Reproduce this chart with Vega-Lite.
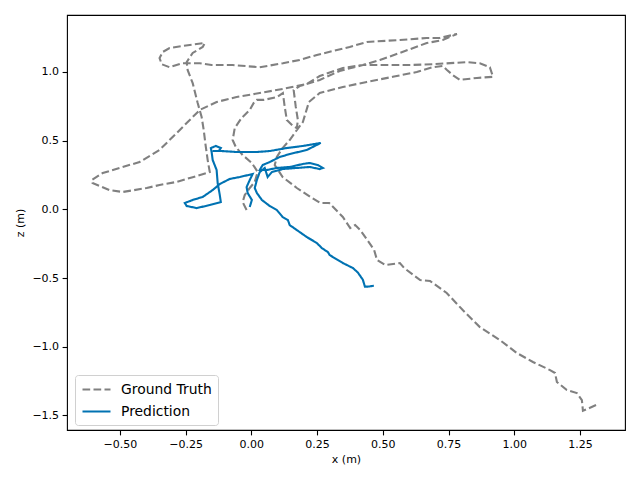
{
"$schema":"https://vega.github.io/schema/vega-lite/v6.json",
"width":558,"height":415,
"autosize":{"type":"none"},
"padding":{"left":67,"top":15,"right":15,"bottom":50},
"background":"white",
"config":{"font":"DejaVu Sans","view":{"stroke":"black","strokeWidth":1.1},
"axis":{"domain":false,"grid":false,"tickColor":"black","tickWidth":1.1,"tickSize":4.9,"labelFontSize":11,"labelColor":"black","labelPadding":3.5,"titleFontSize":11,"titleFontWeight":"normal","titleColor":"black"},
"legend":{"orient":"none","legendX":8,"legendY":360,"fillColor":"rgba(255,255,255,0.8)","strokeColor":"#d0d0d0","cornerRadius":3,"padding":6,"labelFontSize":13.9,"labelColor":"black","symbolType":"M-1,0H3","symbolSize":196,"symbolStrokeWidth":2.1,"rowPadding":6,"labelOffset":23}},
"data":{"values":[
{"s":"Ground Truth","i":1,"x":-0.018,"y":-0.005},
{"s":"Ground Truth","i":2,"x":-0.033,"y":0.053},
{"s":"Ground Truth","i":3,"x":-0.025,"y":0.104},
{"s":"Ground Truth","i":4,"x":-0.006,"y":0.155},
{"s":"Ground Truth","i":5,"x":0.013,"y":0.199},
{"s":"Ground Truth","i":6,"x":0.024,"y":0.272},
{"s":"Ground Truth","i":7,"x":0.002,"y":0.337},
{"s":"Ground Truth","i":8,"x":-0.033,"y":0.395},
{"s":"Ground Truth","i":9,"x":-0.059,"y":0.453},
{"s":"Ground Truth","i":10,"x":-0.071,"y":0.504},
{"s":"Ground Truth","i":11,"x":-0.063,"y":0.592},
{"s":"Ground Truth","i":12,"x":-0.037,"y":0.665},
{"s":"Ground Truth","i":13,"x":-0.006,"y":0.723},
{"s":"Ground Truth","i":14,"x":0.009,"y":0.774},
{"s":"Ground Truth","i":15,"x":0.021,"y":0.796},
{"s":"Ground Truth","i":16,"x":0.047,"y":0.796},
{"s":"Ground Truth","i":17,"x":0.097,"y":0.817},
{"s":"Ground Truth","i":18,"x":0.120,"y":0.846},
{"s":"Ground Truth","i":19,"x":0.127,"y":0.745},
{"s":"Ground Truth","i":20,"x":0.135,"y":0.650},
{"s":"Ground Truth","i":21,"x":0.158,"y":0.606},
{"s":"Ground Truth","i":22,"x":0.173,"y":0.591},
{"s":"Ground Truth","i":23,"x":0.177,"y":0.650},
{"s":"Ground Truth","i":24,"x":0.169,"y":0.745},
{"s":"Ground Truth","i":25,"x":0.161,"y":0.868},
{"s":"Ground Truth","i":26,"x":0.184,"y":0.897},
{"s":"Ground Truth","i":27,"x":0.260,"y":0.941},
{"s":"Ground Truth","i":28,"x":0.336,"y":1.007},
{"s":"Ground Truth","i":29,"x":0.424,"y":1.050},
{"s":"Ground Truth","i":30,"x":0.489,"y":1.087},
{"s":"Ground Truth","i":31,"x":0.565,"y":1.138},
{"s":"Ground Truth","i":32,"x":0.667,"y":1.210},
{"s":"Ground Truth","i":33,"x":0.728,"y":1.232},
{"s":"Ground Truth","i":34,"x":0.782,"y":1.276},
{"s":"Ground Truth","i":35,"x":0.717,"y":1.247},
{"s":"Ground Truth","i":36,"x":0.667,"y":1.247},
{"s":"Ground Truth","i":37,"x":0.565,"y":1.232},
{"s":"Ground Truth","i":38,"x":0.439,"y":1.218},
{"s":"Ground Truth","i":39,"x":0.374,"y":1.181},
{"s":"Ground Truth","i":40,"x":0.310,"y":1.152},
{"s":"Ground Truth","i":41,"x":0.249,"y":1.123},
{"s":"Ground Truth","i":42,"x":0.184,"y":1.087},
{"s":"Ground Truth","i":43,"x":0.120,"y":1.063},
{"s":"Ground Truth","i":44,"x":0.032,"y":1.034},
{"s":"Ground Truth","i":45,"x":-0.071,"y":1.050},
{"s":"Ground Truth","i":46,"x":-0.151,"y":1.050},
{"s":"Ground Truth","i":47,"x":-0.196,"y":1.063},
{"s":"Ground Truth","i":48,"x":-0.261,"y":1.063},
{"s":"Ground Truth","i":49,"x":-0.311,"y":1.034},
{"s":"Ground Truth","i":50,"x":-0.341,"y":1.056},
{"s":"Ground Truth","i":51,"x":-0.349,"y":1.101},
{"s":"Ground Truth","i":52,"x":-0.337,"y":1.145},
{"s":"Ground Truth","i":53,"x":-0.311,"y":1.174},
{"s":"Ground Truth","i":54,"x":-0.234,"y":1.196},
{"s":"Ground Truth","i":55,"x":-0.177,"y":1.210},
{"s":"Ground Truth","i":56,"x":-0.185,"y":1.181},
{"s":"Ground Truth","i":57,"x":-0.223,"y":1.138},
{"s":"Ground Truth","i":58,"x":-0.246,"y":1.071},
{"s":"Ground Truth","i":59,"x":-0.242,"y":1.012},
{"s":"Ground Truth","i":60,"x":-0.223,"y":0.918},
{"s":"Ground Truth","i":61,"x":-0.204,"y":0.773},
{"s":"Ground Truth","i":62,"x":-0.189,"y":0.672},
{"s":"Ground Truth","i":63,"x":-0.181,"y":0.576},
{"s":"Ground Truth","i":64,"x":-0.174,"y":0.467},
{"s":"Ground Truth","i":65,"x":-0.166,"y":0.358},
{"s":"Ground Truth","i":66,"x":-0.158,"y":0.271},
{"s":"Ground Truth","i":67,"x":-0.170,"y":0.264},
{"s":"Ground Truth","i":68,"x":-0.223,"y":0.234},
{"s":"Ground Truth","i":69,"x":-0.284,"y":0.199},
{"s":"Ground Truth","i":70,"x":-0.349,"y":0.177},
{"s":"Ground Truth","i":71,"x":-0.398,"y":0.155},
{"s":"Ground Truth","i":72,"x":-0.489,"y":0.126},
{"s":"Ground Truth","i":73,"x":-0.539,"y":0.140},
{"s":"Ground Truth","i":74,"x":-0.604,"y":0.191},
{"s":"Ground Truth","i":75,"x":-0.607,"y":0.213},
{"s":"Ground Truth","i":76,"x":-0.565,"y":0.264},
{"s":"Ground Truth","i":77,"x":-0.501,"y":0.301},
{"s":"Ground Truth","i":78,"x":-0.425,"y":0.344},
{"s":"Ground Truth","i":79,"x":-0.349,"y":0.432},
{"s":"Ground Truth","i":80,"x":-0.284,"y":0.555},
{"s":"Ground Truth","i":81,"x":-0.196,"y":0.723},
{"s":"Ground Truth","i":82,"x":-0.132,"y":0.781},
{"s":"Ground Truth","i":83,"x":-0.056,"y":0.817},
{"s":"Ground Truth","i":84,"x":0.032,"y":0.846},
{"s":"Ground Truth","i":85,"x":0.120,"y":0.876},
{"s":"Ground Truth","i":86,"x":0.211,"y":0.912},
{"s":"Ground Truth","i":87,"x":0.260,"y":0.970},
{"s":"Ground Truth","i":88,"x":0.348,"y":1.028},
{"s":"Ground Truth","i":89,"x":0.424,"y":1.050},
{"s":"Ground Truth","i":90,"x":0.500,"y":1.050},
{"s":"Ground Truth","i":91,"x":0.603,"y":1.050},
{"s":"Ground Truth","i":92,"x":0.690,"y":1.056},
{"s":"Ground Truth","i":93,"x":0.820,"y":1.071},
{"s":"Ground Truth","i":94,"x":0.869,"y":1.063},
{"s":"Ground Truth","i":95,"x":0.907,"y":1.034},
{"s":"Ground Truth","i":96,"x":0.919,"y":0.964},
{"s":"Ground Truth","i":97,"x":0.858,"y":0.956},
{"s":"Ground Truth","i":98,"x":0.793,"y":0.942},
{"s":"Ground Truth","i":99,"x":0.766,"y":0.977},
{"s":"Ground Truth","i":100,"x":0.744,"y":1.014},
{"s":"Ground Truth","i":101,"x":0.728,"y":1.043},
{"s":"Ground Truth","i":102,"x":0.690,"y":1.034},
{"s":"Ground Truth","i":103,"x":0.629,"y":0.999},
{"s":"Ground Truth","i":104,"x":0.538,"y":0.964},
{"s":"Ground Truth","i":105,"x":0.439,"y":0.927},
{"s":"Ground Truth","i":106,"x":0.348,"y":0.890},
{"s":"Ground Truth","i":107,"x":0.260,"y":0.846},
{"s":"Ground Truth","i":108,"x":0.219,"y":0.781},
{"s":"Ground Truth","i":109,"x":0.196,"y":0.635},
{"s":"Ground Truth","i":110,"x":0.173,"y":0.577},
{"s":"Ground Truth","i":111,"x":0.146,"y":0.504},
{"s":"Ground Truth","i":112,"x":0.119,"y":0.446},
{"s":"Ground Truth","i":113,"x":0.097,"y":0.381},
{"s":"Ground Truth","i":114,"x":0.089,"y":0.322},
{"s":"Ground Truth","i":115,"x":0.119,"y":0.235},
{"s":"Ground Truth","i":116,"x":0.173,"y":0.155},
{"s":"Ground Truth","i":117,"x":0.224,"y":0.090},
{"s":"Ground Truth","i":118,"x":0.262,"y":0.046},
{"s":"Ground Truth","i":119,"x":0.296,"y":0.046},
{"s":"Ground Truth","i":120,"x":0.348,"y":-0.056},
{"s":"Ground Truth","i":121,"x":0.376,"y":-0.136},
{"s":"Ground Truth","i":122,"x":0.395,"y":-0.114},
{"s":"Ground Truth","i":123,"x":0.414,"y":-0.151},
{"s":"Ground Truth","i":124,"x":0.441,"y":-0.223},
{"s":"Ground Truth","i":125,"x":0.467,"y":-0.296},
{"s":"Ground Truth","i":126,"x":0.478,"y":-0.369},
{"s":"Ground Truth","i":127,"x":0.509,"y":-0.405},
{"s":"Ground Truth","i":128,"x":0.565,"y":-0.391},
{"s":"Ground Truth","i":129,"x":0.581,"y":-0.427},
{"s":"Ground Truth","i":130,"x":0.642,"y":-0.515},
{"s":"Ground Truth","i":131,"x":0.680,"y":-0.522},
{"s":"Ground Truth","i":132,"x":0.743,"y":-0.609},
{"s":"Ground Truth","i":133,"x":0.804,"y":-0.733},
{"s":"Ground Truth","i":134,"x":0.869,"y":-0.857},
{"s":"Ground Truth","i":135,"x":0.945,"y":-0.951},
{"s":"Ground Truth","i":136,"x":1.010,"y":-1.046},
{"s":"Ground Truth","i":137,"x":1.071,"y":-1.111},
{"s":"Ground Truth","i":138,"x":1.136,"y":-1.170},
{"s":"Ground Truth","i":139,"x":1.155,"y":-1.191},
{"s":"Ground Truth","i":140,"x":1.162,"y":-1.257},
{"s":"Ground Truth","i":141,"x":1.200,"y":-1.315},
{"s":"Ground Truth","i":142,"x":1.238,"y":-1.337},
{"s":"Ground Truth","i":143,"x":1.257,"y":-1.388},
{"s":"Ground Truth","i":144,"x":1.261,"y":-1.466},
{"s":"Ground Truth","i":145,"x":1.288,"y":-1.444},
{"s":"Ground Truth","i":146,"x":1.322,"y":-1.415},
{"s":"Prediction","i":1,"x":-0.006,"y":0.017},
{"s":"Prediction","i":2,"x":0.002,"y":0.068},
{"s":"Prediction","i":3,"x":-0.014,"y":0.119},
{"s":"Prediction","i":4,"x":-0.018,"y":0.162},
{"s":"Prediction","i":5,"x":-0.006,"y":0.213},
{"s":"Prediction","i":6,"x":0.005,"y":0.257},
{"s":"Prediction","i":7,"x":-0.044,"y":0.235},
{"s":"Prediction","i":8,"x":-0.082,"y":0.221},
{"s":"Prediction","i":9,"x":-0.120,"y":0.184},
{"s":"Prediction","i":10,"x":-0.147,"y":0.140},
{"s":"Prediction","i":11,"x":-0.185,"y":0.090},
{"s":"Prediction","i":12,"x":-0.223,"y":0.068},
{"s":"Prediction","i":13,"x":-0.253,"y":0.046},
{"s":"Prediction","i":14,"x":-0.246,"y":0.024},
{"s":"Prediction","i":15,"x":-0.208,"y":0.009},
{"s":"Prediction","i":16,"x":-0.158,"y":0.031},
{"s":"Prediction","i":17,"x":-0.116,"y":0.053},
{"s":"Prediction","i":18,"x":-0.120,"y":0.104},
{"s":"Prediction","i":19,"x":-0.128,"y":0.191},
{"s":"Prediction","i":20,"x":-0.132,"y":0.286},
{"s":"Prediction","i":21,"x":-0.147,"y":0.359},
{"s":"Prediction","i":22,"x":-0.151,"y":0.417},
{"s":"Prediction","i":23,"x":-0.154,"y":0.446},
{"s":"Prediction","i":24,"x":-0.135,"y":0.461},
{"s":"Prediction","i":25,"x":-0.116,"y":0.446},
{"s":"Prediction","i":26,"x":-0.124,"y":0.424},
{"s":"Prediction","i":27,"x":-0.147,"y":0.424},
{"s":"Prediction","i":28,"x":-0.113,"y":0.424},
{"s":"Prediction","i":29,"x":-0.056,"y":0.417},
{"s":"Prediction","i":30,"x":0.021,"y":0.417},
{"s":"Prediction","i":31,"x":0.070,"y":0.424},
{"s":"Prediction","i":32,"x":0.135,"y":0.446},
{"s":"Prediction","i":33,"x":0.196,"y":0.461},
{"s":"Prediction","i":34,"x":0.264,"y":0.483},
{"s":"Prediction","i":35,"x":0.211,"y":0.432},
{"s":"Prediction","i":36,"x":0.146,"y":0.402},
{"s":"Prediction","i":37,"x":0.108,"y":0.381},
{"s":"Prediction","i":38,"x":0.070,"y":0.344},
{"s":"Prediction","i":39,"x":0.043,"y":0.322},
{"s":"Prediction","i":40,"x":0.032,"y":0.286},
{"s":"Prediction","i":41,"x":0.059,"y":0.286},
{"s":"Prediction","i":42,"x":0.097,"y":0.301},
{"s":"Prediction","i":43,"x":0.146,"y":0.308},
{"s":"Prediction","i":44,"x":0.196,"y":0.330},
{"s":"Prediction","i":45,"x":0.222,"y":0.337},
{"s":"Prediction","i":46,"x":0.253,"y":0.322},
{"s":"Prediction","i":47,"x":0.272,"y":0.301},
{"s":"Prediction","i":48,"x":0.260,"y":0.293},
{"s":"Prediction","i":49,"x":0.222,"y":0.308},
{"s":"Prediction","i":50,"x":0.173,"y":0.301},
{"s":"Prediction","i":51,"x":0.119,"y":0.293},
{"s":"Prediction","i":52,"x":0.078,"y":0.271},
{"s":"Prediction","i":53,"x":0.062,"y":0.235},
{"s":"Prediction","i":54,"x":0.051,"y":0.301},
{"s":"Prediction","i":55,"x":0.032,"y":0.271},
{"s":"Prediction","i":56,"x":0.021,"y":0.213},
{"s":"Prediction","i":57,"x":0.013,"y":0.155},
{"s":"Prediction","i":58,"x":0.021,"y":0.119},
{"s":"Prediction","i":59,"x":0.040,"y":0.068},
{"s":"Prediction","i":60,"x":0.070,"y":0.024},
{"s":"Prediction","i":61,"x":0.097,"y":-0.005},
{"s":"Prediction","i":62,"x":0.119,"y":-0.056},
{"s":"Prediction","i":63,"x":0.139,"y":-0.078},
{"s":"Prediction","i":64,"x":0.146,"y":-0.115},
{"s":"Prediction","i":65,"x":0.173,"y":-0.151},
{"s":"Prediction","i":66,"x":0.211,"y":-0.202},
{"s":"Prediction","i":67,"x":0.249,"y":-0.245},
{"s":"Prediction","i":68,"x":0.268,"y":-0.282},
{"s":"Prediction","i":69,"x":0.291,"y":-0.311},
{"s":"Prediction","i":70,"x":0.298,"y":-0.333},
{"s":"Prediction","i":71,"x":0.348,"y":-0.391},
{"s":"Prediction","i":72,"x":0.386,"y":-0.427},
{"s":"Prediction","i":73,"x":0.405,"y":-0.460},
{"s":"Prediction","i":74,"x":0.424,"y":-0.512},
{"s":"Prediction","i":75,"x":0.432,"y":-0.563},
{"s":"Prediction","i":76,"x":0.443,"y":-0.563},
{"s":"Prediction","i":77,"x":0.466,"y":-0.556}
]},
"mark":{"type":"line","strokeWidth":2.1,"interpolate":"linear"},
"encoding":{
"x":{"field":"x","type":"quantitative","scale":{"domain":[-0.701,1.421],"nice":false,"zero":false},"axis":{"title":"x (m)","values":[-0.5,-0.25,0,0.25,0.5,0.75,1,1.25],"format":".2f","titlePadding":4}},
"y":{"field":"y","type":"quantitative","scale":{"domain":[-1.606,1.414],"nice":false,"zero":false},"axis":{"title":"z (m)","values":[-1.5,-1,-0.5,0,0.5,1],"format":".1f","titlePadding":6}},
"color":{"field":"s","type":"nominal","scale":{"domain":["Ground Truth","Prediction"],"range":["#808080","#0072B2"]},"legend":{"title":null}},
"strokeDash":{"field":"s","type":"nominal","scale":{"domain":["Ground Truth","Prediction"],"range":[[7.7,3.3],[1,0]]},"legend":{"title":null}},
"order":{"field":"i","type":"quantitative"}
}
}
